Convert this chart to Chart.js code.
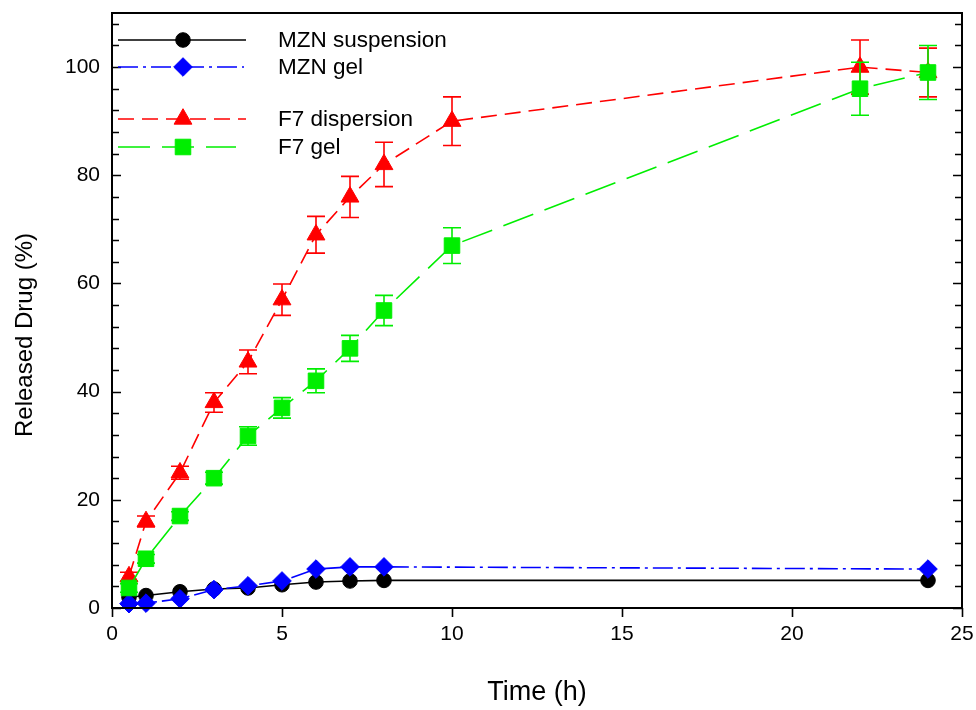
<!DOCTYPE html>
<html>
<head>
<meta charset="utf-8">
<script src="https://cdn.jsdelivr.net/npm/chart.js@4/dist/chart.umd.min.js"></script>
<style>
  html, body { margin: 0; padding: 0; background: #fff; }
  #wrap { width: 976px; height: 710px; }
</style>
</head>
<body>
<div id="wrap"><canvas id="myChart" width="976" height="710"></canvas></div>
<script>
// time points (h)
const timesMzn = [0.5, 1, 2, 3, 4, 5, 6, 7, 8, 24];
const timesF7 = [0.5, 1, 2, 3, 4, 5, 6, 7, 8, 10, 22, 24];

// released drug (%)
const mznSuspension = [2.0, 2.3, 3.0, 3.5, 3.7, 4.3, 4.8, 5.0, 5.1, 5.1];
const mznGel = [0.8, 0.9, 1.7, 3.4, 4.1, 5.0, 7.2, 7.6, 7.6, 7.2];
const f7Dispersion = [5.8, 16, 25, 38, 45.5, 57, 69, 76, 82, 90, 100, 99];
const f7DispersionErr = [0.8, 1.0, 1.2, 1.8, 2.2, 2.9, 3.4, 3.8, 4.1, 4.5, 5.0, 4.5];
const f7Gel = [3.7, 9.1, 17, 24, 31.8, 37, 42, 48, 55, 67, 96, 99];
const f7GelErr = [0.8, 0.8, 0.8, 1.1, 1.7, 1.9, 2.2, 2.4, 2.8, 3.3, 4.9, 5.0];

const seriesLabels = ["MZN suspension", "MZN gel", "F7 dispersion", "F7 gel"];

// axes
const xMin = 0, xMax = 25, xStep = 5;
const yMin = 0, yMax = 110, yMajor = 20, yMinor = 4;
const xTitle = "Time (h)";
const yTitle = "Released Drug (%)";

const FONT = "'Liberation Sans', Arial, sans-serif";

function toPoints(xs, ys) {
  return xs.map((x, i) => ({ x: x, y: ys[i] }));
}

// error bars, drawn right before each dataset so its markers sit on top
const errorBars = {
  id: "errorBars",
  beforeDatasetDraw(chart, args) {
    const ds = chart.data.datasets[args.index];
    if (!ds.errors) return;
    const meta = args.meta;
    const y = chart.scales.y;
    const ctx = chart.ctx;
    ctx.save();
    ctx.strokeStyle = ds.borderColor;
    ctx.lineWidth = 1.6;
    ctx.setLineDash([]);
    meta.data.forEach((pt, i) => {
      const v = ds.data[i].y, e = ds.errors[i];
      const top = y.getPixelForValue(v + e);
      const bot = y.getPixelForValue(v - e);
      const cap = 9;
      ctx.beginPath();
      ctx.moveTo(pt.x, top); ctx.lineTo(pt.x, bot);
      ctx.moveTo(pt.x - cap, top); ctx.lineTo(pt.x + cap, top);
      ctx.moveTo(pt.x - cap, bot); ctx.lineTo(pt.x + cap, bot);
      ctx.stroke();
    });
    ctx.restore();
  }
};

// box frame, inward y ticks, outward x ticks, y title
const frame = {
  id: "frame",
  afterDraw(chart) {
    const ctx = chart.ctx;
    const a = chart.chartArea;
    const xs = chart.scales.x, ys = chart.scales.y;
    ctx.save();
    ctx.strokeStyle = "#000";
    ctx.lineWidth = 2;
    ctx.setLineDash([]);
    ctx.strokeRect(a.left, a.top, a.right - a.left, a.bottom - a.top);
    ctx.lineWidth = 1.6;
    ctx.beginPath();
    ys.ticks.forEach(t => {
      const py = Math.round(ys.getPixelForValue(t.value)) + 0.5;
      const len = t.value % yMajor === 0 ? 9 : 7;
      ctx.moveTo(a.left, py); ctx.lineTo(a.left + len, py);
      ctx.moveTo(a.right, py); ctx.lineTo(a.right - len, py);
    });
    xs.ticks.forEach(t => {
      const px = Math.round(xs.getPixelForValue(t.value)) + 0.5;
      ctx.moveTo(px, a.bottom); ctx.lineTo(px, a.bottom + 9);
    });
    ctx.stroke();

    ctx.fillStyle = "#000";
    ctx.font = "24px " + FONT;
    ctx.textAlign = "center";
    ctx.textBaseline = "middle";
    ctx.translate(25, 335);
    ctx.rotate(-Math.PI / 2);
    ctx.fillText(yTitle, 0, 0);
    ctx.restore();
  }
};

// legend in the top-left corner: line + marker + label
const legendBox = {
  id: "legendBox",
  afterDraw(chart) {
    const ctx = chart.ctx;
    const rows = [40, 67, 119, 147];
    const lineEnds = [246, 244, 246, 236];
    ctx.save();
    chart.data.datasets.forEach((ds, i) => {
      const ry = rows[i];
      ctx.strokeStyle = ds.borderColor;
      ctx.lineWidth = ds.borderWidth;
      ctx.setLineDash(ds.borderDash || []);
      ctx.beginPath();
      ctx.moveTo(118, ry); ctx.lineTo(lineEnds[i], ry);
      ctx.stroke();
      ctx.setLineDash([]);
      ctx.fillStyle = ds.pointBackgroundColor;
      ctx.strokeStyle = ds.pointBorderColor;
      ctx.lineWidth = 1;
      Chart.helpers.drawPoint(ctx, {
        pointStyle: ds.pointStyle, radius: ds.pointRadius, rotation: 0, borderWidth: 1
      }, 183, ry);
      ctx.fillStyle = "#000";
      ctx.font = "22.5px " + FONT;
      ctx.textAlign = "left";
      ctx.textBaseline = "middle";
      ctx.fillText(ds.label, 278, ry + 1);
    });
    ctx.restore();
  }
};

function series(label, xs, ys, color, style, radius, dash, order, errors) {
  return {
    label: label,
    data: toPoints(xs, ys),
    borderColor: color,
    backgroundColor: color,
    pointBackgroundColor: color,
    pointBorderColor: color,
    pointBorderWidth: 1,
    borderWidth: 1.6,
    borderDash: dash,
    pointStyle: style,
    pointRadius: radius,
    pointHoverRadius: radius,
    tension: 0,
    fill: false,
    showLine: true,
    order: order,
    errors: errors,
    clip: false
  };
}

const datasets = [
  series(seriesLabels[0], timesMzn, mznSuspension, "#000000", "circle", 7.3, [], 4, null),
  series(seriesLabels[1], timesMzn, mznGel, "#0000ff", "rectRot", 9.3, [20, 5, 3, 5], 3, null),
  series(seriesLabels[2], timesF7, f7Dispersion, "#ff0000", "triangle", 10.3, [16, 8], 2, f7DispersionErr),
  series(seriesLabels[3], timesF7, f7Gel, "#00ee00", "rect", 11, [32, 12], 1, f7GelErr)
];

const ctx = document.getElementById("myChart").getContext("2d");
const myChart = new Chart(ctx, {
  type: "line",
  data: { datasets: datasets },
  options: {
    responsive: false,
    animation: false,
    events: [],
    layout: { padding: { left: 0, right: 14, top: 13, bottom: 0 } },
    plugins: { legend: { display: false }, tooltip: { enabled: false } },
    scales: {
      x: {
        type: "linear",
        min: xMin, max: xMax,
        afterFit: s => { s.height = 102; s.paddingLeft = 0; s.paddingRight = 0; },
        grid: { display: false, drawTicks: false },
        border: { display: false },
        ticks: { stepSize: xStep, color: "#000", padding: 14, font: { family: FONT, size: 21 } },
        title: {
          display: true, text: xTitle, color: "#000",
          font: { family: FONT, size: 27 }, padding: { top: 0, bottom: 1 }
        }
      },
      y: {
        type: "linear",
        min: yMin, max: yMax,
        afterFit: s => { s.width = 112; s.paddingTop = 0; s.paddingBottom = 0; },
        afterBuildTicks: s => {
          const t = [];
          for (let v = yMin; v <= yMax; v += yMinor) t.push({ value: v });
          s.ticks = t;
        },
        grid: { display: false, drawTicks: false },
        border: { display: false },
        ticks: {
          autoSkip: false, color: "#000", padding: 12,
          font: { family: FONT, size: 21 },
          callback: v => (v % yMajor === 0 ? String(v) : "")
        }
      }
    }
  },
  plugins: [errorBars, frame, legendBox]
});
</script>
</body>
</html>
